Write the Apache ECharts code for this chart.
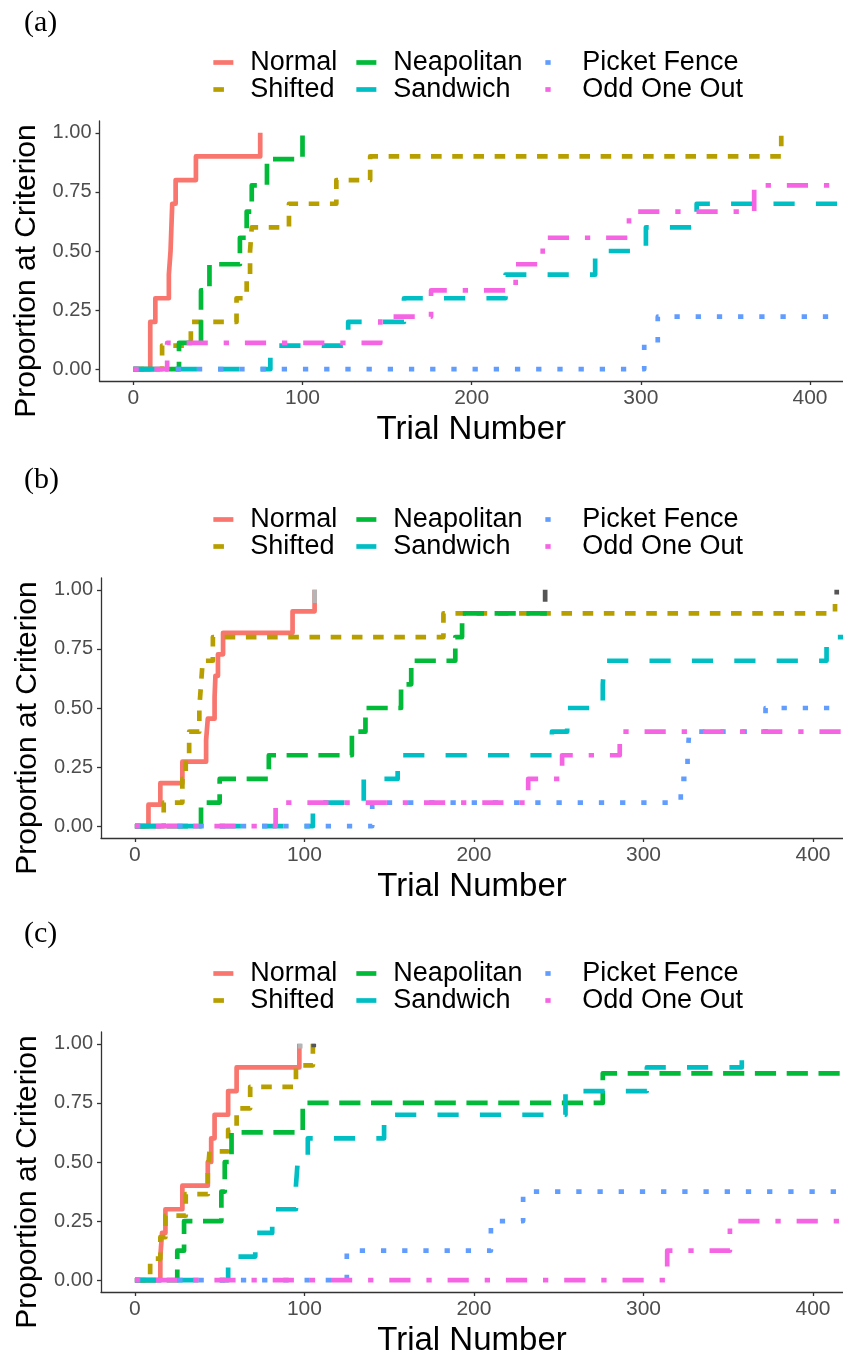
<!DOCTYPE html>
<html>
<head>
<meta charset="utf-8">
<script src="https://cdn.jsdelivr.net/npm/echarts@6/dist/echarts.min.js"></script>
<style>
  html, body { margin: 0; padding: 0; background: #ffffff; }
  #chart { width: 843px; height: 1355px; }
</style>
</head>
<body>
<div id="chart"></div>
<script>
// Condition names and panel labels
const conditionNames = ['Normal', 'Shifted', 'Neapolitan', 'Sandwich', 'Picket Fence', 'Odd One Out'];
const panelLabels = ['(a)', '(b)', '(c)'];
const xTickValues = [0, 100, 200, 300, 400];
const yTickValues = [0, 0.25, 0.5, 0.75, 1];

// Panel (a): [trial, proportion at criterion] step points
const normalA     = [[0, 0], [10, 0.2], [13, 0.3], [21, 0.4], [22, 0.5], [23, 0.7], [25, 0.8], [37, 0.9], [75, 1.0]];
const shiftedA    = [[0, 0], [17, 0.1], [34, 0.2], [61, 0.3], [67, 0.4], [69, 0.5], [70, 0.6], [92, 0.7], [120, 0.8], [140, 0.9], [383, 1.0]];
const neapolitanA = [[0, 0], [27, 0.111], [40, 0.333], [45, 0.444], [63, 0.556], [67, 0.667], [70, 0.778], [79, 0.889], [100, 1.0]];
const sandwichA   = [[0, 0], [81, 0.1], [127, 0.2], [160, 0.3], [220, 0.4], [273, 0.5], [303, 0.6], [333, 0.7], [450, 0.7]];
const picketA     = [[0, 0], [302, 0.111], [310, 0.222], [450, 0.222]];
const oddA        = [[0, 0], [20, 0.111], [146, 0.222], [176, 0.333], [226, 0.444], [242, 0.556], [293, 0.667], [367, 0.778], [450, 0.778]];

// Panel (b)
const normalB     = [[0, 0], [8, 0.091], [15, 0.182], [28, 0.273], [42, 0.364], [43, 0.455], [47, 0.545], [47.5, 0.636], [49, 0.727], [52, 0.818], [93, 0.909], [106, 1.0]];
const shiftedB    = [[0, 0], [17, 0.1], [28, 0.2], [30, 0.3], [32, 0.4], [38, 0.5], [39, 0.6], [40, 0.7], [46, 0.8], [182, 0.9], [413, 0.94]];
const neapolitanB = [[0, 0], [39, 0.1], [50, 0.2], [79, 0.3], [128, 0.4], [136, 0.5], [157, 0.6], [163, 0.7], [189, 0.8], [193, 0.9], [243, 0.9]];
const sandwichB   = [[0, 0], [105, 0.1], [135, 0.2], [155, 0.3], [246, 0.4], [255, 0.5], [276, 0.6], [277, 0.7], [408, 0.8], [450, 0.8]];
const picketB     = [[0, 0], [140, 0.1], [322, 0.2], [326, 0.3], [327, 0.4], [372, 0.5], [450, 0.5]];
const oddB        = [[0, 0], [83, 0.1], [232, 0.2], [252, 0.3], [286, 0.4], [450, 0.4]];

// Panel (c)
const normalC     = [[0, 0], [15, 0.1], [16, 0.2], [18, 0.3], [28, 0.4], [43, 0.5], [45, 0.6], [47, 0.7], [55, 0.8], [60, 0.9], [97, 1.0]];
const shiftedC    = [[0, 0], [9, 0.091], [15, 0.182], [18, 0.273], [30, 0.364], [43, 0.455], [44, 0.545], [55, 0.636], [60, 0.727], [68, 0.818], [95, 0.909], [105, 1.0]];
const neapolitanC = [[0, 0], [25, 0.125], [29, 0.25], [51, 0.375], [53, 0.5], [57, 0.625], [99, 0.75], [276, 0.875], [450, 0.875]];
const sandwichC   = [[0, 0], [55, 0.1], [71, 0.2], [81, 0.3], [95, 0.4], [96, 0.5], [102, 0.6], [147, 0.7], [254, 0.8], [302, 0.9], [358, 0.93]];
const picketC     = [[0, 0], [125, 0.125], [210, 0.25], [229, 0.375], [450, 0.375]];
const oddC        = [[0, 0], [314, 0.125], [351, 0.25], [450, 0.25]];

// Grey end ticks: [trial, from, to]
const lightTicksB = [[106, 0.944, 1.0]];
const darkTicksB  = [[242, 0.95, 1.0], [414, 0.98, 1.0]];
const lightTicksC = [[97.5, 0.98, 1.0]];
const darkTicksC  = [[105.5, 0.985, 1.0]];

// ---- styling ----
const FONT = 'Liberation Sans, Arial, sans-serif';
const colors = ['#F8766D', '#B79F00', '#00BA38', '#00BFC4', '#619CFF', '#F564E3'];
const LW = 4.7;
const u = 5.3;
const dashTypes = ['solid', [2 * u, 2 * u], [4 * u, 2 * u], [4 * u, 4 * u], [u, 3 * u], [u, 3 * u, 4 * u, 3 * u]];

const panels = [
  { off: 0,   gridTop: 121,  left: 99.5, xMax: 419.5, curves: [normalA, shiftedA, neapolitanA, sandwichA, picketA, oddA], light: [], dark: [] },
  { off: 457, gridTop: 578,  left: 101,  xMax: 417.7, curves: [normalB, shiftedB, neapolitanB, sandwichB, picketB, oddB], light: lightTicksB, dark: darkTicksB },
  { off: 911, gridTop: 1032, left: 101,  xMax: 417.7, curves: [normalC, shiftedC, neapolitanC, sandwichC, picketC, oddC], light: lightTicksC, dark: darkTicksC }
];

const legendColumns = [[0, 1], [2, 3], [4, 5]];
const legendColumnX = [211, 354, 543];

const grid = [], xAxis = [], yAxis = [], series = [], legend = [], title = [];

const axisLineStyle = { color: '#333333', width: 1.3 };

panels.forEach((p, i) => {
  grid.push({ left: p.left, right: 0, top: p.gridTop, height: 260, containLabel: false, outerBoundsMode: 'none' });

  xAxis.push({
    type: 'value', gridIndex: i, min: -20, max: p.xMax,
    axisLine: { show: true, onZero: false, lineStyle: axisLineStyle },
    axisTick: { show: true, length: 4, customValues: xTickValues, lineStyle: axisLineStyle },
    axisLabel: { customValues: xTickValues, fontSize: 21, color: '#4d4d4d', margin: 7, fontFamily: FONT },
    splitLine: { show: false },
    name: 'Trial Number', nameLocation: 'middle', nameGap: 32,
    nameTextStyle: { fontSize: 33, color: '#000000', fontFamily: FONT }
  });

  yAxis.push({
    type: 'value', gridIndex: i, min: -0.05, max: 1.05,
    axisLine: { show: true, onZero: false, lineStyle: axisLineStyle },
    axisTick: { show: true, length: 4, customValues: yTickValues, lineStyle: axisLineStyle },
    axisLabel: { customValues: yTickValues, fontSize: 20, color: '#4d4d4d', margin: 8, fontFamily: FONT,
                 formatter: v => v.toFixed(2) },
    splitLine: { show: false },
    name: 'Proportion at Criterion', nameLocation: 'middle', nameGap: 47,
    nameTextStyle: { fontSize: 30, color: '#000000', fontFamily: FONT, padding: [0, 40, 0, 0] }
  });

  p.curves.forEach((data, k) => {
    series.push({
      type: 'line', name: conditionNames[k], xAxisIndex: i, yAxisIndex: i,
      data: data, step: 'end', symbol: 'none', silent: true, clip: true,
      color: colors[k],
      lineStyle: { color: colors[k], width: LW, type: dashTypes[k], cap: 'butt', join: 'round' }
    });
  });

  [[p.light, '#b5b5b5'], [p.dark, '#555555']].forEach(([ticks, c]) => {
    ticks.forEach(([t, lo, hi]) => {
      series.push({
        type: 'line', xAxisIndex: i, yAxisIndex: i, data: [[t, lo], [t, hi]],
        symbol: 'none', silent: true, z: 3,
        lineStyle: { color: c, width: LW, cap: 'butt' }
      });
    });
  });

  legendColumns.forEach((col, c) => {
    legend.push({
      data: col.map(k => conditionNames[k]),
      orient: 'vertical', left: legendColumnX[c], top: 49 + p.off,
      padding: 0, itemGap: 0, itemWidth: 20, itemHeight: 5,
      selectedMode: false,
      itemStyle: { opacity: 0 },
      lineStyle: { width: LW },
      textStyle: { fontSize: 27, lineHeight: 25, color: '#000000', fontFamily: FONT, padding: [0, 0, 0, 12] }
    });
  });

  title.push({
    text: panelLabels[i], left: 24, top: 8 + p.off, padding: 0,
    textStyle: { fontFamily: 'Liberation Serif, Times New Roman, serif', fontSize: 30, fontWeight: 'normal', color: '#000000' }
  });
});

const chart = echarts.init(document.getElementById('chart'), null, { renderer: 'canvas' });
chart.setOption({
  animation: false,
  backgroundColor: '#ffffff',
  title, legend, grid, xAxis, yAxis, series
});
</script>
</body>
</html>
